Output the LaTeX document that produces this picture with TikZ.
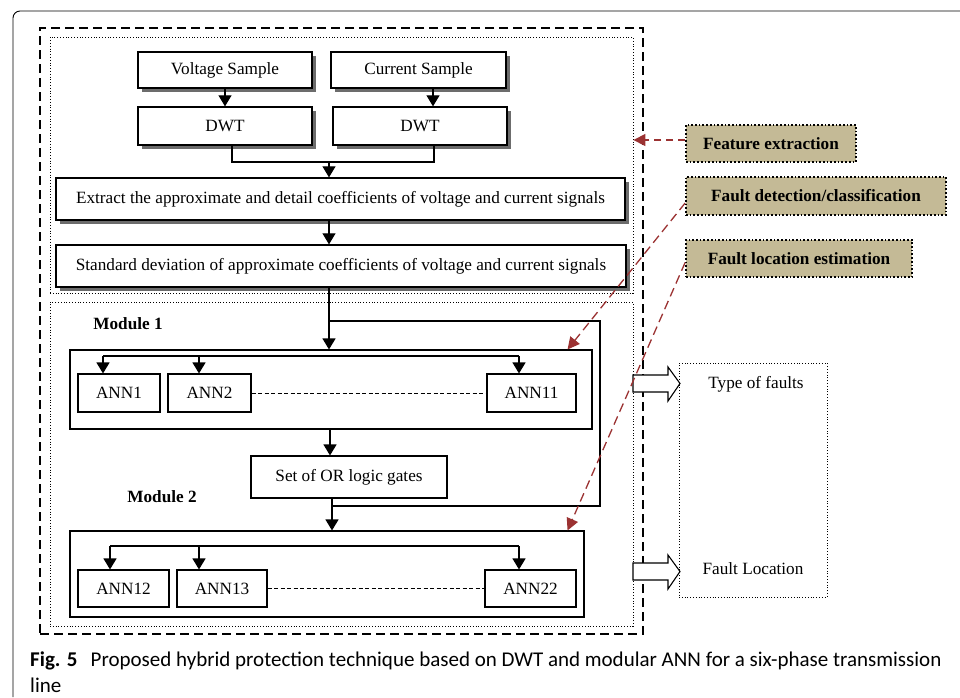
\documentclass[tikz,border=0pt]{standalone}
\usepackage{fontspec}
\setmainfont{Liberation Serif}
\newfontfamily\capfont{Carlito}
\usetikzlibrary{arrows.meta,shadows,calc}
\definecolor{tan}{RGB}{196,186,150}
\definecolor{hintred}{RGB}{155,50,50}
\begin{document}
\begin{tikzpicture}[x=1pt,y=-1pt,
  every node/.style={font=\fontsize{17.2}{20}\selectfont},
  sbox/.style={draw,line width=1.3pt,fill=white,inner sep=0pt,
    drop shadow={shadow xshift=4pt,shadow yshift=-4pt,fill=gray!85!black,opacity=1}},
  pbox/.style={draw,line width=1.1pt,fill=white,inner sep=0pt},
  modbox/.style={draw,line width=1.1pt,inner sep=0pt},
  tagbox/.style={draw,line width=1.7pt,dotted,fill=tan,inner sep=0pt,
    font=\fontsize{17.2}{20}\selectfont\bfseries},
  region/.style={draw,line width=0.8pt,dotted,inner sep=0pt},
  arr/.style={line width=1.1pt,-{Triangle[length=11pt,width=13pt]}},
  wire/.style={line width=1.1pt},
  hint/.style={hintred,line width=1.3pt,dash pattern=on 9pt off 5pt,
    -{Triangle[length=12pt,width=12pt]}},
  blockarrow/.style={draw,line width=1.1pt,fill=white}]
\useasboundingbox (0,0) rectangle (960,697);

% outer frame
\draw[line width=0.9pt,rounded corners=7] (13,697) |- (960,11);

% dashed enclosure and dotted regions
\node[draw,line width=1.5pt,dash pattern=on 9pt off 5pt,minimum width=603,minimum height=606,inner sep=0pt] (all) at (341.5,331) {};
\node[region,minimum width=583,minimum height=256] (fx) at (341.5,165) {};
\node[region,minimum width=583,minimum height=324] (nn) at (341.5,464) {};

% feature extraction chain
\node[sbox,minimum width=174,minimum height=36] (vs) at (225,70) {Voltage Sample};
\node[sbox,minimum width=175,minimum height=36] (cs) at (418.5,70) {Current Sample};
\node[sbox,minimum width=174,minimum height=38] (dwt1) at (225,126) {DWT};
\node[sbox,minimum width=174,minimum height=38] (dwt2) at (420,126) {DWT};
\node[sbox,minimum width=569,minimum height=42] (ext) at (340.5,199) {Extract the approximate and detail coefficients of voltage and current signals};
\node[sbox,minimum width=570,minimum height=42] (std) at (341,266) {Standard deviation of approximate coefficients of voltage and current signals};

\draw[arr] (vs.south) -- (dwt1.north);
\draw[arr] (cs.south -| 433,0) -- (dwt2.north -| 433,0);
\coordinate (m) at (329,162);
\draw[wire] ($(dwt1.south)+(7,0)$) |- (m) -| ($(dwt2.south)+(14,0)$);
\draw[arr] (m) -- (m |- ext.north);
\draw[arr] (ext.south -| m) -- (std.north -| m);

% module 1
\node[font=\fontsize{17.2}{20}\selectfont\bfseries] (lab1) at (128,324) {Module 1};
\node[modbox,minimum width=522,minimum height=79] (mod1) at (331,389.5) {};
\node[pbox,minimum width=82,minimum height=38] (a1) at (119,393) {ANN1};
\node[pbox,minimum width=83,minimum height=38] (a2) at (209.5,393) {ANN2};
\node[pbox,minimum width=89,minimum height=38] (a11) at (531.5,393) {ANN11};
\draw[arr] (std.south -| m) -- (mod1.north -| m);
\coordinate (d1) at (103,356);
\coordinate (d2) at (199,356);
\coordinate (d3) at (519,356);
\draw[wire] (d1) -- (d3);
\draw[arr] (d1) -- (d1 |- a1.north);
\draw[arr] (d2) -- (d2 |- a2.north);
\draw[arr] (d3) -- (d3 |- a11.north);
\draw[line width=0.9pt,dash pattern=on 4pt off 2.5pt] (a2.east) -- (a11.west);

% OR gates
\node[pbox,minimum width=196,minimum height=42] (or) at (349,477) {Set of OR logic gates};
\draw[arr] (mod1.south -| 330,0) -- (or.north -| 330,0);

% module 2
\node[font=\fontsize{17.2}{20}\selectfont\bfseries] (lab2) at (162,497) {Module 2};
\node[modbox,minimum width=514,minimum height=86] (mod2) at (327,574) {};
\node[pbox,minimum width=91,minimum height=37] (a12) at (123.5,588.5) {ANN12};
\node[pbox,minimum width=90,minimum height=37] (a13) at (222,588.5) {ANN13};
\node[pbox,minimum width=91,minimum height=37] (a22) at (530.5,588.5) {ANN22};
\draw[arr] (or.south -| 332,0) -- (mod2.north -| 332,0);
\coordinate (b1) at (329,321);
\draw[wire] (b1) -| (600,506) -- (332,506);
\coordinate (e1) at (110,546);
\coordinate (e2) at (199,546);
\coordinate (e3) at (519,546);
\draw[wire] (e1) -- (e3);
\draw[arr] (e1) -- (e1 |- a12.north);
\draw[arr] (e2) -- (e2 |- a13.north);
\draw[arr] (e3) -- (e3 |- a22.north);
\draw[line width=0.9pt,dash pattern=on 4pt off 2.5pt] (a13.east) -- (a22.west);

% outputs
\node[region,minimum width=148,minimum height=234] (out) at (753,480) {};
\node (tf) at (756,384) {Type of faults};
\node (fl) at (753,569) {Fault Location};
\draw[blockarrow] (633,375) -- (668,375) -- (668,367) -- (680,383.5) -- (668,401) -- (668,392) -- (633,392) -- cycle;
\draw[blockarrow] (633,563) -- (668,563) -- (668,555) -- (680,571.5) -- (668,589) -- (668,580) -- (633,580) -- cycle;

% stage tags
\node[tagbox,minimum width=170,minimum height=37] (tfe) at (771,143.5) {Feature extraction};
\node[tagbox,minimum width=260,minimum height=38] (tfd) at (816,196) {Fault detection/classification};
\node[tagbox,minimum width=226,minimum height=37] (tfl) at (799,258.5) {Fault location estimation};
\draw[hint,dash pattern=on 7pt off 5pt] (tfe.west |- 0,140) -- (fx.east |- 0,140);
\draw[hint] ($(tfd.west)+(0,7)$) -- ($(mod1.north east)+(-25,0)$);
\draw[hint] ($(tfl.west)+(0,4)$) -- ($(mod2.north east)+(-17,0)$);

% caption (base anchor sits on the last line)
\node[anchor=base west,inner sep=0pt,align=left,font=\capfont\fontsize{21}{26}\selectfont] (cap) at (30,692)
  {\textbf{Fig. 5}\hspace{0.4em} Proposed hybrid protection technique based on DWT and modular ANN for a six-phase transmission\\line};
\end{tikzpicture}
\end{document}
